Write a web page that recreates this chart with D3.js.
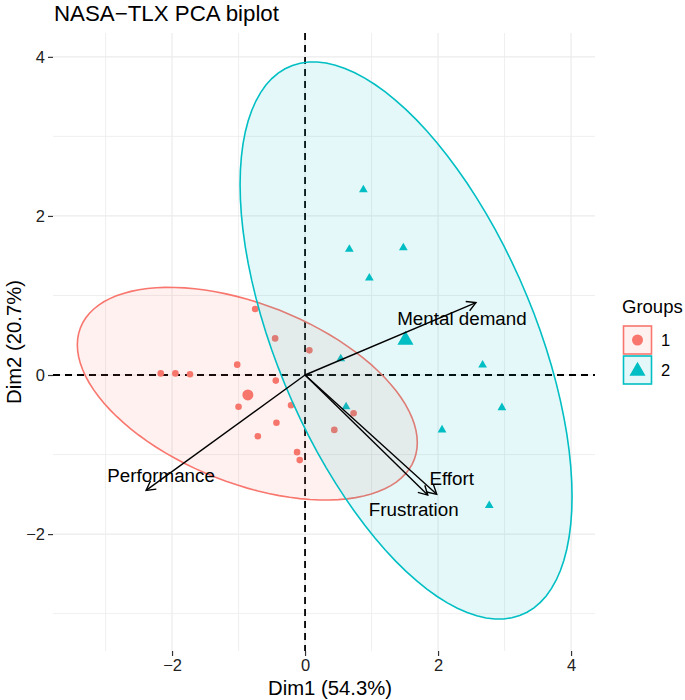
<!DOCTYPE html>
<html>
<head>
<meta charset="utf-8">
<script src="https://cdn.jsdelivr.net/npm/d3@7"></script>
<style>
  body { margin: 0; background: #fff; }
  text { font-family: "Liberation Sans", Arial, Helvetica, sans-serif; }
</style>
</head>
<body>
<div id="vis"></div>
<script>
const FRAME_WIDTH = 685;
const FRAME_HEIGHT = 700;
const MARGINS = { left: 53, right: 90, top: 33, bottom: 49 };

// axis ranges and ticks
const X_DOMAIN = [-3.79, 4.36];
const Y_DOMAIN = [-3.47, 4.30];
const MAJOR_TICKS = [-2, 0, 2, 4];
const MINOR_TICKS = [-3, -1, 1, 3];

// individuals, group 1
const g1x = [-0.75, -0.45, 0.065, -1.02, -2.17, -1.95, -1.73, -0.44, -1.00, -0.21, -0.43, -0.71, -0.12, -0.08, 0.73, 0.44];
const g1y = [0.83, 0.46, 0.31, 0.13, 0.02, 0.02, 0.01, -0.07, -0.40, -0.38, -0.60, -0.77, -0.97, -1.07, -0.48, -0.69];
// individuals, group 2
const g2x = [0.877, 0.666, 1.478, 0.967, 0.537, 2.67, 2.96, 2.06, 2.77, 0.617];
const g2y = [2.33, 1.58, 1.60, 1.22, 0.205, 0.126, -0.41, -0.69, -1.64, -0.40];

// group means
const groups = ["1", "2"];
const meanX = [-0.86, 1.51];
const meanY = [-0.25, 0.44];

// concentration ellipses: centre, half ranges, correlation
const ellCx = [-0.868, 1.519];
const ellCy = [-0.235, 0.434];
const ellRx = [2.556, 2.496];
const ellRy = [1.337, 3.503];
const ellRho = [-0.46, -0.56];

// variables
const varNames = ["Mental demand", "Performance", "Effort", "Frustration"];
const varDim1 = [2.57, -2.39, 1.98, 1.845];
const varDim2 = [0.91, -1.45, -1.50, -1.51];

const COLORS = ["#F8766D", "#00BFC4"];
// label nudges in pixels (from arrow tip to text anchor)
const LABEL_NUDGE = {
  "Mental demand": [-14, 22],
  "Performance": [15, -8],
  "Effort": [15, -9],
  "Frustration": [-14, 21]
};

const VIS_WIDTH = FRAME_WIDTH - MARGINS.left - MARGINS.right;
const VIS_HEIGHT = FRAME_HEIGHT - MARGINS.top - MARGINS.bottom;

const FRAME = d3.select("#vis")
  .append("svg")
  .attr("width", FRAME_WIDTH)
  .attr("height", FRAME_HEIGHT);

const X_SCALE = d3.scaleLinear().domain(X_DOMAIN).range([MARGINS.left, MARGINS.left + VIS_WIDTH]);
const Y_SCALE = d3.scaleLinear().domain(Y_DOMAIN).range([MARGINS.top + VIS_HEIGHT, MARGINS.top]);

const P_TOP = MARGINS.top, P_BOTTOM = MARGINS.top + VIS_HEIGHT;
const P_LEFT = MARGINS.left, P_RIGHT = MARGINS.left + VIS_WIDTH;

// grid
const grid = FRAME.append("g");
[[MINOR_TICKS, 0.8], [MAJOR_TICKS, 1.2]].forEach(([ticks, w]) => {
  grid.selectAll(null).data(ticks).enter().append("line")
    .attr("x1", d => X_SCALE(d)).attr("x2", d => X_SCALE(d))
    .attr("y1", P_TOP).attr("y2", P_BOTTOM)
    .attr("stroke", "#EBEBEB").attr("stroke-width", w);
  grid.selectAll(null).data(ticks).enter().append("line")
    .attr("y1", d => Y_SCALE(d)).attr("y2", d => Y_SCALE(d))
    .attr("x1", P_LEFT).attr("x2", P_RIGHT)
    .attr("stroke", "#EBEBEB").attr("stroke-width", w);
});

// axes
const fmt = d => d < 0 ? "\u2212" + Math.abs(d) : d;
const xAxis = FRAME.append("g")
  .attr("transform", `translate(0, ${P_BOTTOM})`)
  .call(d3.axisBottom(X_SCALE).tickValues(MAJOR_TICKS).tickSize(5).tickPadding(3).tickFormat(fmt));
const yAxis = FRAME.append("g")
  .attr("transform", `translate(${P_LEFT}, 0)`)
  .call(d3.axisLeft(Y_SCALE).tickValues(MAJOR_TICKS).tickSize(5).tickPadding(3).tickFormat(fmt));
[xAxis, yAxis].forEach(a => {
  a.select(".domain").remove();
  a.selectAll(".tick line").attr("stroke", "#333").attr("stroke-width", 1.2);
  a.selectAll(".tick text").attr("fill", "#222").attr("font-size", 16.5)
    .style("font-family", '"Liberation Sans", Arial, sans-serif');
});

// reference lines
FRAME.append("line")
  .attr("x1", P_LEFT).attr("x2", P_RIGHT)
  .attr("y1", Y_SCALE(0)).attr("y2", Y_SCALE(0))
  .attr("stroke", "#000").attr("stroke-width", 1.8).attr("stroke-dasharray", "7,5");
FRAME.append("line")
  .attr("x1", X_SCALE(0)).attr("x2", X_SCALE(0))
  .attr("y1", P_TOP).attr("y2", P_BOTTOM)
  .attr("stroke", "#000").attr("stroke-width", 1.8).attr("stroke-dasharray", "7,5");

// points
const g1 = g1x.map((x, i) => ({ x: x, y: g1y[i] }));
const g2 = g2x.map((x, i) => ({ x: x, y: g2y[i] }));

FRAME.append("g").selectAll("circle").data(g1).enter().append("circle")
  .attr("cx", d => X_SCALE(d.x)).attr("cy", d => Y_SCALE(d.y))
  .attr("r", 3.3).attr("fill", COLORS[0]);

const smallTri = d3.symbol().type(d3.symbolTriangle).size(33);
FRAME.append("g").selectAll("path").data(g2).enter().append("path")
  .attr("d", smallTri)
  .attr("transform", d => `translate(${X_SCALE(d.x)}, ${Y_SCALE(d.y)})`)
  .attr("fill", COLORS[1]);

// means
FRAME.append("circle")
  .attr("cx", X_SCALE(meanX[0])).attr("cy", Y_SCALE(meanY[0]))
  .attr("r", 5.5).attr("fill", COLORS[0]);
FRAME.append("path")
  .attr("d", d3.symbol().type(d3.symbolTriangle).size(112))
  .attr("transform", `translate(${X_SCALE(meanX[1])}, ${Y_SCALE(meanY[1])})`)
  .attr("fill", COLORS[1]);

// ellipses
const line = d3.line().x(d => X_SCALE(d[0])).y(d => Y_SCALE(d[1]));
groups.forEach((g, i) => {
  const s = Math.sqrt(1 - ellRho[i] * ellRho[i]);
  const pts = d3.range(0, 101).map(k => {
    const t = (k / 100) * 2 * Math.PI;
    return [ellCx[i] + ellRx[i] * Math.cos(t),
            ellCy[i] + ellRy[i] * (ellRho[i] * Math.cos(t) + s * Math.sin(t))];
  });
  FRAME.append("path")
    .attr("d", line(pts) + "Z")
    .attr("fill", COLORS[i]).attr("fill-opacity", 0.1)
    .attr("stroke", COLORS[i]).attr("stroke-width", 1.6);
});

// arrows
FRAME.append("defs").append("marker")
  .attr("id", "arrow")
  .attr("viewBox", "-11 -7 13 14")
  .attr("refX", 0).attr("refY", 0)
  .attr("markerWidth", 13).attr("markerHeight", 14)
  .attr("markerUnits", "userSpaceOnUse")
  .attr("orient", "auto")
  .append("path")
  .attr("d", "M-9,-5 L0,0 L-9,5")
  .attr("fill", "none").attr("stroke", "#000").attr("stroke-width", 1.4);

const vars = varNames.map((n, i) => ({ name: n, x: varDim1[i], y: varDim2[i] }));
FRAME.append("g").selectAll("line").data(vars).enter().append("line")
  .attr("x1", X_SCALE(0)).attr("y1", Y_SCALE(0))
  .attr("x2", d => X_SCALE(d.x)).attr("y2", d => Y_SCALE(d.y))
  .attr("stroke", "#000").attr("stroke-width", 1.4)
  .attr("marker-end", "url(#arrow)");

FRAME.append("g").selectAll("text").data(vars).enter().append("text")
  .attr("x", d => X_SCALE(d.x) + LABEL_NUDGE[d.name][0])
  .attr("y", d => Y_SCALE(d.y) + LABEL_NUDGE[d.name][1])
  .attr("text-anchor", "middle")
  .attr("font-size", 18.8).attr("fill", "#000")
  .text(d => d.name);

// titles
FRAME.append("text")
  .attr("x", P_LEFT + 1).attr("y", 21)
  .attr("font-size", 22.3).attr("fill", "#000")
  .text("NASA\u2212TLX PCA biplot");
FRAME.append("text")
  .attr("x", (P_LEFT + P_RIGHT) / 2 + 6).attr("y", 695)
  .attr("text-anchor", "middle").attr("font-size", 20.3).attr("fill", "#000")
  .text("Dim1 (54.3%)");
FRAME.append("text")
  .attr("transform", `translate(21, ${(P_TOP + P_BOTTOM) / 2}) rotate(-90)`)
  .attr("text-anchor", "middle").attr("font-size", 20.3).attr("fill", "#000")
  .text("Dim2 (20.7%)");

// legend
const LEG = FRAME.append("g");
LEG.append("text").attr("x", 622).attr("y", 313)
  .attr("font-size", 18.5).attr("fill", "#000").text("Groups");
groups.forEach((g, i) => {
  const y0 = 326 + i * 30;
  LEG.append("rect").attr("x", 623.5).attr("y", y0).attr("width", 28).attr("height", 28)
    .attr("fill", COLORS[i]).attr("fill-opacity", 0.1)
    .attr("stroke", COLORS[i]).attr("stroke-width", 1.6);
  if (i === 0) {
    LEG.append("circle").attr("cx", 637.5).attr("cy", y0 + 14).attr("r", 5.5).attr("fill", COLORS[0]);
  } else {
    LEG.append("path").attr("d", d3.symbol().type(d3.symbolTriangle).size(112))
      .attr("transform", `translate(637.5, ${y0 + 15})`).attr("fill", COLORS[1]);
  }
  LEG.append("text").attr("x", 661).attr("y", y0 + 20)
    .attr("font-size", 16.5).attr("fill", "#000").text(g);
});
</script>
</body>
</html>
